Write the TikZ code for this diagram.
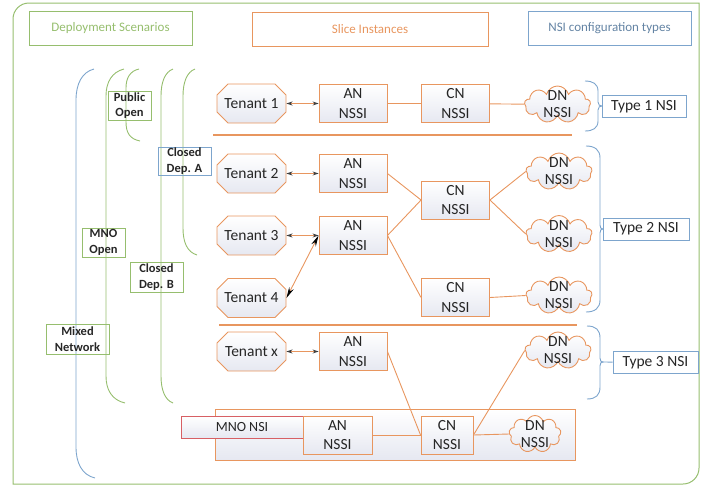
\documentclass[tikz,border=0pt]{standalone}
\usepackage{fontspec}
\setmainfont{Carlito}
\usetikzlibrary{shapes.misc,shapes.symbols,arrows.meta}
\definecolor{depgreen}{RGB}{150,190,110}
\definecolor{sliceorange}{RGB}{232,150,95}
\definecolor{nsiblue}{RGB}{125,165,205}
\definecolor{mnored}{RGB}{215,95,100}
\definecolor{shadegray}{RGB}{230,232,241}
\begin{document}
\begin{tikzpicture}[x=1pt,y=-1pt,
	every node/.style={text=black!85, inner sep=0pt},
	nssi/.style={draw=sliceorange, line width=0.9pt, top color=white, bottom color=shadegray,
		align=center, font=\fontsize{15.5}{19.5}\selectfont, minimum width=68pt, minimum height=38pt},
	tenant/.style={nssi, chamfered rectangle, chamfered rectangle xsep=5pt,
		chamfered rectangle ysep=6pt, minimum width=69pt, minimum height=39pt},
	dn/.style={draw=sliceorange, line width=0.9pt, top color=white, bottom color=shadegray,
		cloud, cloud puffs=9, cloud ignores aspect, minimum width=66pt, minimum height=37pt,
		label={[align=center, font=\fontsize{15.5}{17}\selectfont, text=black!85]center:DN\\NSSI}},
	hdr/.style={draw=#1, text=#1, line width=0.9pt, minimum height=34pt,
		font=\fontsize{13}{15}\selectfont},
	scen/.style={draw=#1, line width=0.9pt, align=center,
		font=\bfseries\fontsize{12.5}{15.5}\selectfont},
	typ/.style={draw=nsiblue, line width=0.9pt, fill=white, minimum height=22pt,
		font=\fontsize{15.5}{18}\selectfont},
	link/.style={draw=sliceorange, line width=0.9pt},
	tarrow/.style={link, {Stealth[length=6pt,width=4pt,color=black!75]}-{Stealth[length=6pt,width=4pt,color=black!75]}},
	bigarrow/.style={link, {Stealth[length=11pt,width=5pt,color=black]}-{Stealth[length=11pt,width=5pt,color=black]}}]
	\useasboundingbox (0,0) rectangle (718,488);
	% outer frame, two corners rounded
	\draw[depgreen, line width=1pt] (13,484) [rounded corners=16pt] -- (13,3) [sharp corners] -- (699,3)
		[rounded corners=16pt] -- (699,484) [sharp corners] -- cycle;
	% headers
	\node[hdr=depgreen, minimum width=163pt] (hdep) at (110.5,28) {Deployment Scenarios};
	\node[hdr=sliceorange, minimum width=236pt] (hslice) at (370,29) {Slice Instances};
	\node[hdr=nsiblue, minimum width=163pt, text=nsiblue!80!black] (hnsi) at (609.5,28.5) {NSI configuration types};
	% deployment brackets
	\draw[nsiblue, line width=0.9pt] (94,69) .. controls (82,72) and (76,84) .. (76,100) -- (76,447)
		.. controls (76,463) and (82,475) .. (95,478);
	\draw[depgreen, line width=0.9pt] (124,69) .. controls (112,72) and (106,82) .. (106,96) -- (106,376)
		.. controls (106,390) and (112,400) .. (125,403);
	\draw[depgreen, line width=0.9pt] (139,69) .. controls (130,71) and (126,78) .. (126,88) -- (126,122)
		.. controls (126,133) and (130,139) .. (140,141);
	\draw[depgreen, line width=0.9pt] (173,69) .. controls (165,72) and (161,82) .. (161,96) -- (161,376)
		.. controls (161,390) and (165,400) .. (173,403);
	\draw[depgreen, line width=0.9pt] (195,69) .. controls (187,72) and (183,82) .. (183,96) -- (183,228)
		.. controls (183,242) and (187,252) .. (197,255);
	% scenario labels
	\node[scen=depgreen, minimum width=43pt, minimum height=29pt] (pub) at (129.5,105.5) {Public\\Open};
	\node[scen=nsiblue, minimum width=53pt, minimum height=28pt] (cla) at (184.5,161) {Closed\\Dep. A};
	\node[scen=depgreen, minimum width=43pt, minimum height=29pt] (mno) at (103.5,242.5) {MNO\\Open};
	\node[scen=depgreen, minimum width=53pt, minimum height=30pt] (clb) at (156.5,277) {Closed\\Dep. B};
	\node[scen=depgreen, minimum width=63pt, minimum height=30pt] (mix) at (77.5,339) {Mixed\\Network};
	% separators
	\draw[sliceorange, line width=1.2pt] (213,135) -- (572,135);
	\draw[sliceorange, line width=1.2pt] (219,325) -- (577,325);
	% tenants
	\node[tenant] (t1) at (251.5,103.5) {Tenant 1};
	\node[tenant] (t2) at (251.5,173.5) {Tenant 2};
	\node[tenant] (t3) at (251.5,235.5) {Tenant 3};
	\node[tenant] (t4) at (251.5,298) {Tenant 4};
	\node[tenant] (tx) at (251.5,351.5) {Tenant x};
	% access network
	\node[nssi] (an1) at (353,103.5) {AN\\NSSI};
	\node[nssi] (an2) at (353,173.5) {AN\\NSSI};
	\node[nssi] (an3) at (353,235.5) {AN\\NSSI};
	\node[nssi] (anx) at (353,351.5) {AN\\NSSI};
	% core network
	\node[nssi] (cn1) at (455.5,103.5) {CN\\NSSI};
	\node[nssi] (cn2) at (455.5,200) {CN\\NSSI};
	\node[nssi] (cn3) at (455.5,297.5) {CN\\NSSI};
	% data network
	\node[dn] (dn1) at (557.5,104.5) {};
	\node[dn] (dn2) at (559,171.5) {};
	\node[dn] (dn3) at (559,234) {};
	\node[dn] (dn4) at (559,295.5) {};
	\node[dn] (dn5) at (558,350.5) {};
	% MNO NSI
	\node[draw=sliceorange, line width=0.9pt, top color=white, bottom color=shadegray,
		minimum width=360pt, minimum height=51pt] (mbox) at (395,434.5) {};
	\node[draw=mnored, line width=0.9pt, top color=white, bottom color=shadegray,
		minimum width=122pt, minimum height=22pt, font=\fontsize{14}{16}\selectfont] (mnsi) at (242,427) {MNO NSI};
	\node[nssi, minimum width=69pt] (anm) at (337.5,435) {AN\\NSSI};
	\node[nssi, minimum width=52pt] (cnm) at (447,435) {CN\\NSSI};
	\node[dn, minimum width=52pt] (dnm) at (535,434) {};
	% tenant access
	\draw[tarrow] (t1) -- (an1);
	\draw[tarrow] (t2) -- (an2);
	\draw[tarrow] (t3) -- (an3);
	\draw[bigarrow] (t4.east) -- (an3.west);
	\draw[tarrow] (tx) -- (anx);
	% slice links
	\draw[link] (an1) -- (cn1);
	\draw[link] (cn1) -- (dn1);
	\draw[link] (an2.east) -- (cn2.west);
	\draw[link] (an3.east) -- (cn2.west);
	\draw[link] (an3.east) -- (cn3.west);
	\draw[link] (cn2.east) -- (dn2.west);
	\draw[link] (cn2.east) -- (dn3.west);
	\draw[link] (cn3.east) -- (dn4.west);
	\draw[link] (anx.east) -- (cnm.west);
	\draw[link] (anm) -- (cnm);
	\draw[link] (cnm.east) -- (dn5.west);
	\draw[link] (cnm.east) -- (dnm.west);
	% NSI type brackets
	\draw[nsiblue, line width=0.9pt] (585,81) .. controls (593,81) and (598,84) .. (598,91) -- (598,102)
		.. controls (598,105) and (600,106) .. (602,106) .. controls (600,106) and (598,107) .. (598,110)
		-- (598,121) .. controls (598,128) and (593,131) .. (585,131);
	\draw[nsiblue, line width=0.9pt] (586,146) .. controls (595,146) and (600,150) .. (600,158) -- (600,225)
		.. controls (600,228) and (601,229) .. (603,229) .. controls (601,229) and (600,230) .. (600,233)
		-- (600,300) .. controls (600,308) and (595,312) .. (586,312);
	\draw[nsiblue, line width=0.9pt] (587,326) .. controls (596,326) and (600,330) .. (600,338) -- (600,358)
		.. controls (600,361) and (601,362) .. (603,362) .. controls (601,362) and (600,363) .. (600,366)
		-- (600,387) .. controls (600,395) and (596,399) .. (587,399);
	\coordinate (b3) at (603,362);
	\node[typ, minimum width=84pt] (ty1) at (644,106.5) {Type 1 NSI};
	\node[typ, minimum width=86pt] (ty2) at (646,229) {Type 2 NSI};
	\node[typ, minimum width=85pt] (ty3) at (655.5,362.5) {Type 3 NSI};
	\draw[nsiblue, line width=0.9pt] (b3) -- (ty3);
\end{tikzpicture}
\end{document}
